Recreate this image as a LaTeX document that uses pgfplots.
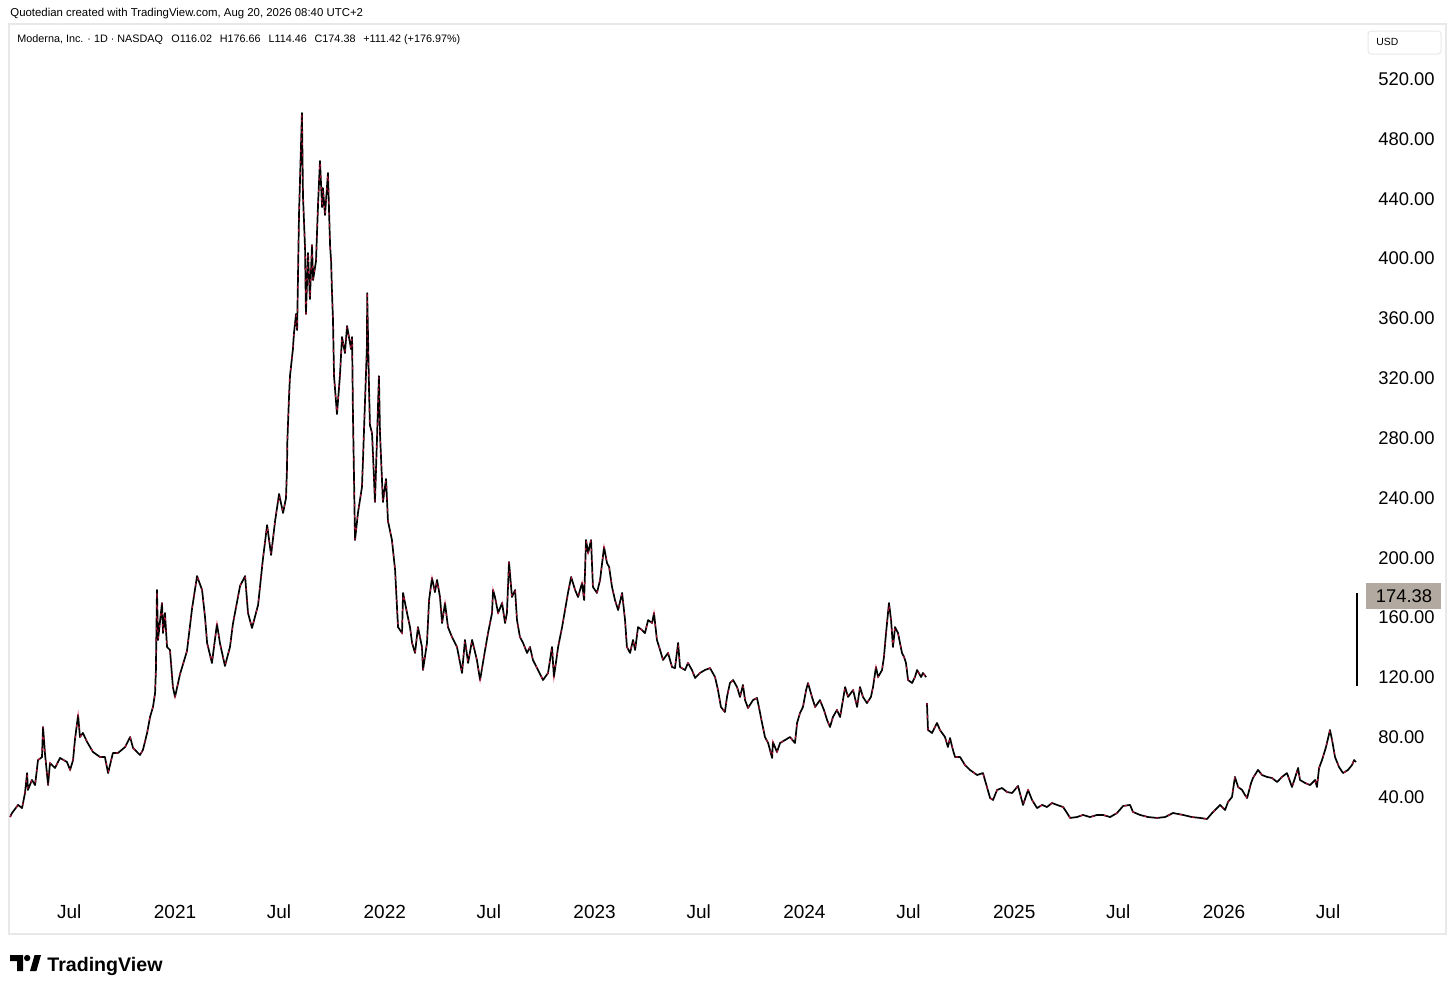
\documentclass[border=0pt]{standalone}
\usepackage{pgfplots}
\usepackage{pgfplotstable}
\pgfplotsset{compat=1.18}
\usepackage{fontspec}
\setmainfont{Liberation Sans}
\definecolor{framegray}{RGB}{232,232,234}
\definecolor{pricebox}{RGB}{178,170,160}
\definecolor{candlered}{RGB}{205,25,65}
\pgfplotstableread[row sep=\\]{
x y\\
2020.214 26.6\\ 2020.223 29.3\\ 2020.252 34.7\\ 2020.271 32.6\\ 2020.285 42.7\\ 2020.295 56.0\\ 2020.299 44.7\\ 2020.318 51.4\\ 2020.333 48.0\\ 2020.347 64.7\\
2020.366 66.7\\ 2020.371 86.8\\ 2020.380 69.4\\ 2020.395 48.0\\ 2020.404 62.7\\ 2020.428 59.4\\ 2020.452 66.1\\ 2020.485 63.4\\ 2020.500 58.1\\ 2020.514 64.7\\
2020.523 78.1\\ 2020.538 94.8\\ 2020.547 80.1\\ 2020.561 82.8\\ 2020.581 76.8\\ 2020.609 70.1\\ 2020.643 66.7\\ 2020.666 66.7\\ 2020.681 56.0\\ 2020.704 69.4\\
2020.728 69.4\\ 2020.762 73.4\\ 2020.786 80.1\\ 2020.800 72.8\\ 2020.833 68.1\\ 2020.847 71.4\\ 2020.867 82.8\\ 2020.881 93.5\\ 2020.895 100.2\\ 2020.905 109.5\\
2020.909 124.9\\ 2020.914 178.4\\ 2020.919 145.0\\ 2020.938 169.7\\ 2020.943 149.6\\ 2020.952 163.0\\ 2020.962 140.3\\ 2020.976 138.3\\ 2020.990 113.5\\ 2021.000 106.9\\
2021.024 122.2\\ 2021.057 137.6\\ 2021.081 165.7\\ 2021.105 187.7\\ 2021.129 178.4\\ 2021.143 160.3\\ 2021.153 143.0\\ 2021.176 129.6\\ 2021.200 155.7\\ 2021.214 143.0\\
2021.238 127.6\\ 2021.262 140.3\\ 2021.276 155.7\\ 2021.310 181.1\\ 2021.334 187.7\\ 2021.348 163.0\\ 2021.367 153.0\\ 2021.396 168.4\\ 2021.419 199.1\\ 2021.439 221.8\\
2021.458 201.8\\ 2021.477 224.5\\ 2021.496 242.6\\ 2021.515 229.9\\ 2021.529 239.9\\ 2021.534 260.6\\ 2021.535 276.0\\ 2021.543 306.1\\ 2021.548 321.4\\ 2021.562 339.5\\
2021.567 350.2\\ 2021.577 362.9\\ 2021.582 352.2\\ 2021.591 429.1\\ 2021.605 497.3\\ 2021.610 441.8\\ 2021.620 406.3\\ 2021.624 362.9\\ 2021.634 403.7\\ 2021.643 372.9\\
2021.653 409.0\\ 2021.658 385.6\\ 2021.672 398.3\\ 2021.682 437.1\\ 2021.691 465.2\\ 2021.701 434.4\\ 2021.705 447.1\\ 2021.715 429.1\\ 2021.729 457.2\\ 2021.739 409.0\\
2021.744 398.3\\ 2021.748 378.3\\ 2021.753 358.9\\ 2021.758 321.4\\ 2021.772 296.0\\ 2021.786 321.4\\ 2021.796 347.5\\ 2021.810 336.8\\ 2021.820 354.9\\ 2021.839 339.5\\
2021.844 347.5\\ 2021.848 297.4\\ 2021.858 211.8\\ 2021.872 229.9\\ 2021.891 247.2\\ 2021.896 265.3\\ 2021.901 286.0\\ 2021.915 342.2\\ 2021.916 376.9\\ 2021.925 311.4\\
2021.929 288.7\\ 2021.939 283.3\\ 2021.944 268.0\\ 2021.953 237.2\\ 2021.963 280.7\\ 2021.972 321.4\\ 2021.977 283.3\\ 2021.991 237.2\\ 2022.006 252.6\\ 2022.015 224.5\\
2022.034 211.8\\ 2022.049 191.8\\ 2022.058 167.0\\ 2022.063 153.6\\ 2022.082 149.6\\ 2022.087 176.4\\ 2022.106 163.0\\ 2022.120 153.6\\ 2022.130 143.0\\ 2022.144 136.3\\
2022.158 153.6\\ 2022.177 140.3\\ 2022.182 124.9\\ 2022.201 143.0\\ 2022.211 171.7\\ 2022.225 186.4\\ 2022.239 177.0\\ 2022.249 185.1\\ 2022.263 173.7\\ 2022.273 156.3\\
2022.287 169.7\\ 2022.301 153.6\\ 2022.320 147.0\\ 2022.344 140.3\\ 2022.368 122.9\\ 2022.382 145.0\\ 2022.397 129.6\\ 2022.416 145.0\\ 2022.439 131.6\\ 2022.454 118.2\\
2022.478 138.3\\ 2022.492 149.6\\ 2022.511 163.0\\ 2022.516 178.4\\ 2022.525 173.7\\ 2022.540 163.0\\ 2022.559 169.7\\ 2022.573 156.3\\ 2022.582 163.0\\ 2022.592 197.1\\
2022.606 173.7\\ 2022.621 178.4\\ 2022.630 158.3\\ 2022.644 147.0\\ 2022.659 143.0\\ 2022.678 136.3\\ 2022.692 140.3\\ 2022.706 131.6\\ 2022.730 124.9\\ 2022.754 118.2\\
2022.778 122.9\\ 2022.797 140.3\\ 2022.806 120.2\\ 2022.826 140.3\\ 2022.845 153.6\\ 2022.859 165.0\\ 2022.873 176.4\\ 2022.888 187.1\\ 2022.907 178.4\\ 2022.921 173.7\\
2022.940 183.1\\ 2022.950 171.7\\ 2022.959 211.8\\ 2022.969 203.1\\ 2022.983 211.8\\ 2022.992 180.4\\ 2023.011 176.4\\ 2023.026 185.1\\ 2023.045 207.1\\ 2023.059 196.4\\
2023.069 193.8\\ 2023.083 180.4\\ 2023.097 171.7\\ 2023.112 165.0\\ 2023.131 176.4\\ 2023.145 158.3\\ 2023.154 140.3\\ 2023.169 136.3\\ 2023.183 145.0\\ 2023.193 138.3\\
2023.207 153.6\\ 2023.226 151.6\\ 2023.240 149.6\\ 2023.255 158.3\\ 2023.274 156.3\\ 2023.283 163.0\\ 2023.297 145.0\\ 2023.312 138.3\\ 2023.326 131.6\\ 2023.350 136.3\\
2023.369 126.9\\ 2023.383 126.2\\ 2023.398 143.0\\ 2023.407 126.9\\ 2023.431 124.9\\ 2023.445 129.6\\ 2023.464 124.9\\ 2023.479 119.6\\ 2023.502 122.9\\ 2023.526 124.9\\
2023.550 126.2\\ 2023.574 120.2\\ 2023.588 111.5\\ 2023.602 100.2\\ 2023.621 96.8\\ 2023.631 106.9\\ 2023.645 116.2\\ 2023.660 118.2\\ 2023.679 113.5\\ 2023.693 106.9\\
2023.707 114.9\\ 2023.717 104.8\\ 2023.731 99.5\\ 2023.755 104.8\\ 2023.774 106.2\\ 2023.784 99.5\\ 2023.798 89.5\\ 2023.812 80.1\\ 2023.827 76.1\\ 2023.846 66.1\\
2023.850 76.8\\ 2023.869 70.1\\ 2023.884 76.1\\ 2023.908 78.1\\ 2023.931 80.1\\ 2023.955 76.1\\ 2023.965 89.5\\ 2023.979 96.2\\ 2023.993 100.2\\ 2024.008 111.5\\
2024.017 116.2\\ 2024.036 106.9\\ 2024.051 100.2\\ 2024.074 104.8\\ 2024.093 98.2\\ 2024.108 91.5\\ 2024.122 86.8\\ 2024.136 93.5\\ 2024.155 98.2\\ 2024.170 93.5\\
2024.194 113.5\\ 2024.208 106.9\\ 2024.232 111.5\\ 2024.251 100.2\\ 2024.265 113.5\\ 2024.279 106.9\\ 2024.298 102.8\\ 2024.317 106.9\\ 2024.327 113.5\\ 2024.341 126.9\\
2024.351 120.2\\ 2024.370 124.9\\ 2024.379 133.6\\ 2024.389 149.6\\ 2024.403 169.7\\ 2024.413 158.3\\ 2024.422 140.3\\ 2024.432 153.6\\ 2024.446 149.6\\ 2024.465 136.3\\
2024.475 133.6\\ 2024.484 129.6\\ 2024.494 118.2\\ 2024.513 116.2\\ 2024.527 120.2\\ 2024.537 124.9\\ 2024.556 120.2\\ 2024.565 122.9\\ 2024.580 120.2\\
}\segA
\pgfplotstableread[row sep=\\]{
x y\\
2024.584 102.8\\ 2024.589 84.8\\ 2024.608 82.8\\ 2024.632 89.5\\ 2024.646 84.8\\ 2024.670 80.1\\ 2024.684 73.4\\ 2024.694 79.4\\ 2024.708 71.4\\ 2024.718 66.7\\
2024.742 66.7\\ 2024.765 61.4\\ 2024.789 58.1\\ 2024.823 54.7\\ 2024.851 56.0\\ 2024.870 46.7\\ 2024.885 39.3\\ 2024.899 38.0\\ 2024.918 44.7\\ 2024.942 46.0\\
2024.966 43.3\\ 2024.990 42.7\\ 2025.018 47.4\\ 2025.032 40.0\\ 2025.042 34.7\\ 2025.066 44.7\\ 2025.085 38.0\\ 2025.109 32.6\\ 2025.133 34.7\\ 2025.156 33.3\\
2025.180 36.0\\ 2025.204 34.7\\ 2025.233 33.3\\ 2025.252 29.3\\ 2025.266 26.0\\ 2025.299 26.6\\ 2025.328 28.0\\ 2025.361 26.6\\ 2025.395 28.0\\ 2025.423 28.0\\
2025.457 26.6\\ 2025.490 29.3\\ 2025.519 34.0\\ 2025.552 34.7\\ 2025.566 30.0\\ 2025.600 28.0\\ 2025.638 26.6\\ 2025.681 26.0\\ 2025.719 26.6\\ 2025.757 29.3\\
2025.805 28.0\\ 2025.847 26.6\\ 2025.886 26.0\\ 2025.919 25.3\\ 2025.943 29.3\\ 2025.967 32.6\\ 2025.981 34.7\\ 2026.005 31.3\\ 2026.019 36.7\\ 2026.038 40.0\\
2026.052 53.4\\ 2026.067 46.7\\ 2026.086 44.7\\ 2026.100 41.3\\ 2026.110 39.3\\ 2026.129 49.4\\ 2026.138 52.7\\ 2026.162 58.1\\ 2026.181 54.7\\ 2026.205 53.4\\
2026.229 52.7\\ 2026.253 50.0\\ 2026.276 53.4\\ 2026.300 56.0\\ 2026.324 46.7\\ 2026.338 52.7\\ 2026.353 59.4\\ 2026.362 51.4\\ 2026.386 49.4\\ 2026.410 48.0\\
2026.434 51.4\\ 2026.443 46.7\\ 2026.453 59.4\\ 2026.467 64.7\\ 2026.486 73.4\\ 2026.505 84.8\\ 2026.515 78.1\\ 2026.529 66.7\\ 2026.548 60.1\\ 2026.567 56.0\\
2026.591 58.1\\ 2026.610 61.4\\ 2026.620 64.7\\ 2026.629 63.4\\
}\segB
\begin{document}
\begin{tikzpicture}
\fill[white] (0,0) rectangle (728pt,-496pt);
\draw[framegray, line width=0.6pt] (4.5pt,-12pt) rectangle (723pt,-467pt);
\node[anchor=west, inner sep=0pt, font=\fontsize{5.7pt}{6pt}\selectfont] at (5pt,-7pt) {Quotedian created with TradingView.com, Aug 20, 2026 08:40 UTC+2};
\node[anchor=west, inner sep=0pt, font=\fontsize{5.4pt}{6pt}\selectfont] at (8.5pt,-20pt) {Moderna, Inc. · 1D · NASDAQ\hspace{0.5em} O116.02\hspace{0.45em} H176.66\hspace{0.45em} L114.46\hspace{0.45em} C174.38\hspace{0.45em} +111.42 (+176.97\%)};
\draw[framegray, rounded corners=1.5pt, line width=0.5pt] (684pt,-15.5pt) rectangle (720.5pt,-27pt);
\node[anchor=west, inner sep=0pt, font=\fontsize{5.2pt}{6pt}\selectfont] at (688pt,-21.2pt) {USD};
\begin{axis}[
  at={(5pt,-440pt)}, anchor=south west,
  scale only axis, width=677.5pt, height=415pt,
  xmin=2020.2135, xmax=2026.672, ymin=-15.5, ymax=539.4,
  axis line style={draw=none}, major tick style={draw=none},
  ytick={40,80,...,520}, yticklabel pos=right,
  /pgf/number format/assume math mode=true,
  yticklabel style={anchor=west, inner sep=0pt, xshift=6.5pt, font=\fontsize{9.2pt}{10pt}\selectfont,
    /pgf/number format/.cd, fixed, fixed zerofill, precision=2, 1000 sep={}},
  xtick={2020.496,2021,2021.496,2022,2022.496,2023,2023.496,2024,2024.496,2025,2025.496,2026,2026.496},
  xticklabels={Jul,2021,Jul,2022,Jul,2023,Jul,2024,Jul,2025,Jul,2026,Jul},
  xticklabel style={anchor=center, inner sep=0pt, yshift=-16pt, font=\fontsize{9.5pt}{10pt}\selectfont},
  clip=false,
]
\addplot[black, line width=0.85pt, line join=round] table[x=x,y=y] {\segA};
\addplot[candlered, line width=0.6pt, dash pattern=on 1.2pt off 4.5pt, opacity=0.85] table[x=x,y=y] {\segA};
\addplot[black, line width=0.85pt, line join=round] table[x=x,y=y] {\segB};
\addplot[candlered, line width=0.6pt, dash pattern=on 1.2pt off 5pt, opacity=0.85] table[x=x,y=y] {\segB};
% last daily candle: O116.02 H176.66 L114.46 C174.38
\addplot[black, line width=0.8pt] coordinates {(2026.634,114.46)(2026.634,176.66)};
% last price label
\node[fill=pricebox, minimum width=37.5pt, minimum height=13pt, inner sep=0pt, anchor=west,
  font=\fontsize{9.2pt}{10pt}\selectfont] at (axis cs:2026.677,174.38) {174.38};
\end{axis}
% TradingView logo
\fill[black] (5pt,-477.5pt) -- (11.5pt,-477.5pt) -- (11.5pt,-485.5pt) -- (8.5pt,-485.5pt) -- (8.5pt,-480.5pt) -- (5pt,-480.5pt) -- cycle;
\fill[black] (13.6pt,-479pt) circle (1.6pt);
\fill[black] (15pt,-485.5pt) -- (18.2pt,-485.5pt) -- (20.5pt,-477.5pt) -- (17.3pt,-477.5pt) -- cycle;
\node[anchor=base west, inner sep=0pt, font=\bfseries\fontsize{9.8pt}{10pt}\selectfont] at (23.5pt,-485.5pt) {TradingView};
\pgfresetboundingbox
\path[use as bounding box] (0,0) rectangle (728pt,-496pt);
\end{tikzpicture}
\end{document}
